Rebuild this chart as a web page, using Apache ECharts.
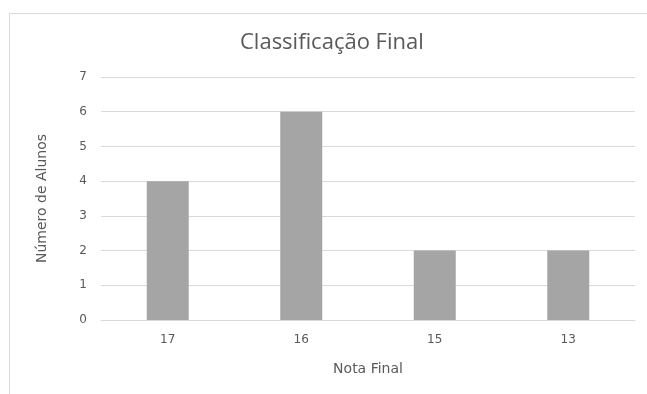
<!DOCTYPE html>
<html><head><meta charset="utf-8">
<script src="https://cdn.jsdelivr.net/npm/echarts@6/dist/echarts.min.js"></script>
<style>html,body{margin:0;padding:0;background:#fff;}#c{width:647px;height:394px;}</style>
</head><body><div id="c"></div>
<script>
const categories = ['17', '16', '15', '13'];
const values = [4, 6, 2, 2];
const titleText = 'Classificação Final';
const xName = 'Nota Final';
const yName = 'Número de Alunos';

const chart = echarts.init(document.getElementById('c'), null, {renderer: 'canvas'});
chart.setOption({
  animation: false,
  backgroundColor: '#fff',
  graphic: [{
    type: 'rect', left: 7, top: 11, z: -1,
    shape: {width: 700, height: 420},
    style: {fill: 'none', stroke: '#d9d9d9', lineWidth: 1}
  }],
  title: {
    text: titleText, left: 235, top: 27,
    textStyle: {fontFamily: 'Open Sans', fontWeight: 'normal', fontSize: 22, color: '#595959'}
  },
  grid: {left: 101, right: 12, top: 77, bottom: 74, containLabel: false},
  xAxis: {
    type: 'category', data: categories,
    name: xName, nameLocation: 'middle', nameGap: 42,
    nameTextStyle: {fontFamily: 'DejaVu Sans', fontSize: 14, color: '#595959'},
    axisLine: {lineStyle: {color: '#d9d9d9'}},
    axisTick: {show: false},
    axisLabel: {fontFamily: 'DejaVu Sans', fontSize: 12, color: '#595959', margin: 14}
  },
  yAxis: {
    type: 'value', min: 0, max: 7, interval: 1,
    name: yName, nameLocation: 'middle', nameGap: 52, nameRotate: 90,
    nameTextStyle: {fontFamily: 'DejaVu Sans', fontSize: 14, color: '#595959'},
    axisLine: {show: false}, axisTick: {show: false},
    splitLine: {lineStyle: {color: '#d9d9d9'}},
    axisLabel: {fontFamily: 'DejaVu Sans', fontSize: 12, color: '#595959', margin: 14}
  },
  series: [{
    type: 'bar', data: values, barWidth: 42,
    itemStyle: {color: '#a5a5a5'}
  }]
});
</script></body></html>
